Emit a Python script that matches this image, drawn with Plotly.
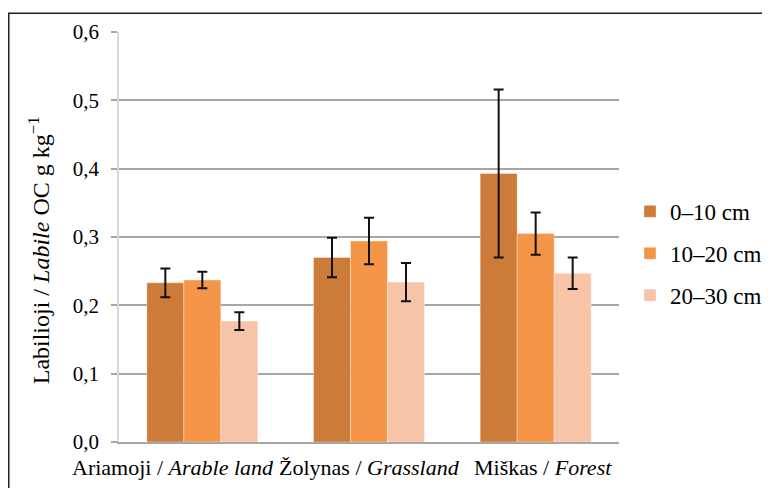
import plotly.graph_objects as go

categories = ["Ariamoji / <i>Arable land</i>", "Žolynas / <i>Grassland</i>", "Miškas / <i>Forest</i>"]
label_shift = [-29, 0, 7]
series_names = ["0–10 cm", "10–20 cm", "20–30 cm"]
values_0_10 = [0.233, 0.270, 0.393]
values_10_20 = [0.237, 0.294, 0.305]
values_20_30 = [0.177, 0.234, 0.247]
err_0_10 = [0.021, 0.029, 0.123]
err_10_20 = [0.012, 0.034, 0.031]
err_20_30 = [0.013, 0.028, 0.023]
colors = ["#CD7B38", "#F49548", "#F8C4A8"]
tick_vals = [0.0, 0.1, 0.2, 0.3, 0.4, 0.5, 0.6]
y_title = "Labilioji / <i>Labile</i> OC g kg<sup>−1</sup>"

FONT = "Liberation Serif, Times New Roman, serif"

fig = go.Figure()
for i, (name, vals, errs) in enumerate(zip(series_names,
                                           [values_0_10, values_10_20, values_20_30],
                                           [err_0_10, err_10_20, err_20_30])):
    fig.add_trace(go.Bar(
        x=categories, y=vals, name=name,
        marker=dict(color=colors[i], line=dict(color="rgba(255,255,255,0.35)", width=1)),
        error_y=dict(type="data", array=errs, visible=True, color="#111111",
                     thickness=2, width=5),
        legendgroup=f"g{i}",
    ))

annotations = [
    dict(x=idx, y=-0.0617, xref="x", yref="paper", text=c, showarrow=False,
         xanchor="center", yanchor="middle", xshift=s,
         font=dict(family=FONT, size=22, color="#000000"))
    for idx, (c, s) in enumerate(zip(categories, label_shift))
]
annotations.append(dict(x=-0.16, y=0.4676, xref="paper", yref="paper", text=y_title,
                        showarrow=False, textangle=-90, xanchor="center", yanchor="middle",
                        font=dict(family=FONT, size=24, color="#000000")))

fig.update_layout(
    width=762, height=480,
    margin=dict(l=111, r=151, t=24, b=46, autoexpand=False),
    paper_bgcolor="white", plot_bgcolor="white",
    barmode="group", bargap=0.334, bargroupgap=0,
    separators=", ",
    font=dict(family=FONT, size=21, color="#000000"),
    legend=dict(x=1.022, y=0.46, xanchor="left", yanchor="middle",
                font=dict(family=FONT, size=23), tracegroupgap=9,
                itemwidth=30, bgcolor="rgba(0,0,0,0)"),
    showlegend=True,
    xaxis=dict(type="category", range=[-0.5, 2.5],
               showline=True, linecolor="#a6a6a6", linewidth=2,
               ticks="", showticklabels=False, automargin=False),
    yaxis=dict(range=[0, 0.6], tickvals=tick_vals, tickformat=".1f",
               automargin=False,
               showgrid=True, gridcolor="#a6a6a6", gridwidth=1.5,
               showline=True, linecolor="#d9d9d9", linewidth=1.5,
               ticks="outside", ticklen=6, tickcolor="#a6a6a6", tickwidth=1.5,
               ticklabelstandoff=8,
               zeroline=False,
               tickfont=dict(family=FONT, size=21)),
    annotations=annotations,
    shapes=[dict(type="rect", xref="paper", yref="paper",
                 x0=-0.2205, x1=1.5, y0=-0.6, y1=1.0456,
                 line=dict(color="#222222", width=1.5), fillcolor="rgba(0,0,0,0)",
                 layer="above")],
)

fig.write_html("out.html")
